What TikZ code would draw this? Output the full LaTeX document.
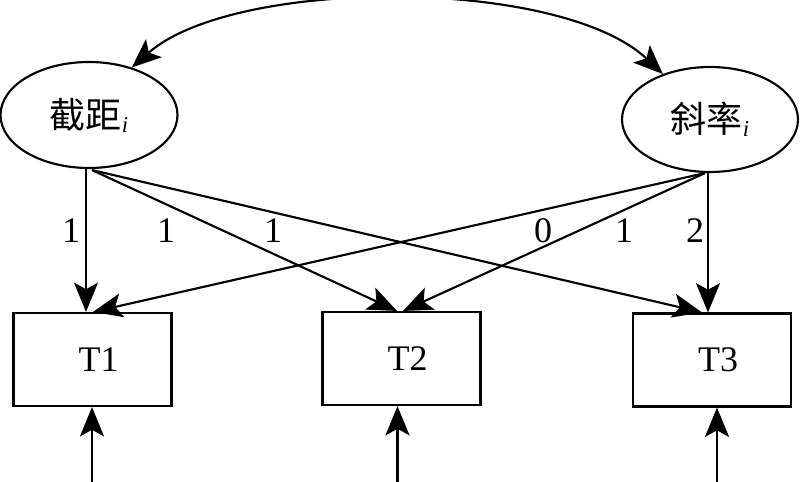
\documentclass[tikz,border=0pt]{standalone}
\usepackage{fontspec}
\setmainfont{Liberation Serif}
\newfontfamily\cjk{Noto Sans CJK SC}
\usetikzlibrary{shapes.geometric,arrows.meta,calc}
\tikzset{
  tip/.tip={Stealth[length=22pt,width=18pt,inset=5pt]},
  latent/.style={draw,ellipse,line width=1.6pt,inner sep=0pt},
  observed/.style={draw,rectangle,line width=1.6pt,inner sep=0pt,minimum width=118.5pt,minimum height=69.75pt},
  conn/.style={line width=1.6pt,-tip},
  biconn/.style={line width=1.6pt,tip-tip},
  lbl/.style={inner sep=0pt,font=\fontsize{27}{30}\selectfont},
}
\newcommand{\subi}{\raisebox{-3pt}{\rmfamily\fontsize{17}{17}\selectfont\itshape i}}
\begin{document}
\begin{tikzpicture}[x=0.75pt,y=-0.75pt]
\useasboundingbox (0,0) rectangle (800,482);
\fill[white] (0,0) rectangle (800,482);
% latent variables
\node[latent,minimum width=132.75pt,minimum height=79.5pt] (L) at (89,115) {\fontsize{27}{30}\selectfont{\cjk 截距}\subi};
\node[latent,minimum width=132pt,minimum height=78.75pt] (R) at (710,119.5) {\fontsize{27}{30}\selectfont{\cjk 斜率}\subi};
% observed
\node[observed] (T1) at (92.5,359.5) {\fontsize{27}{30}\selectfont\hspace{9pt}T1};
\node[observed] (T2) at (401.5,358.5) {\fontsize{27}{30}\selectfont\hspace{9pt}T2};
\node[observed] (T3) at (712,360) {\fontsize{27}{30}\selectfont\hspace{9pt}T3};
% start points
\coordinate (iv) at ($(L.south)+(-3,0)$);
\coordinate (id) at ($(L.south)+(3,1)$);
\coordinate (sv) at ($(R.south)+(-2,0)$);
\coordinate (sd) at ($(R.south)+(-5,0)$);
% bottom free ends
\coordinate (b1) at (92,484);
\coordinate (b2) at (397.5,484);
\coordinate (b3) at (717,484);
% covariance
\draw[biconn] (R.136) .. controls (560,-23) and (235,-23) .. (L.48);
% loadings
\draw[conn] (iv) -- ($(T1.north)+(-6.5,0)$);
\draw[conn] (id) -- ($(T2.north)+(-4.5,0)$);
\draw[conn] (id) -- ($(T3.north)+(-10,0)$);
\draw[conn] (sd) -- ($(T1.north)+(0.5,0)$);
\draw[conn] (sd) -- ($(T2.north)+(1.5,0)$);
\draw[conn] (sv) -- ($(T3.north)+(-4,0)$);
% errors
\draw[conn] (b1) -- ($(T1.south)+(-0.5,0)$);
\draw[conn] (b2) -- ($(T2.south)+(-4,0)$);
\draw[conn] (b3) -- ($(T3.south)+(5,0)$);
% labels
\node[lbl] (l1) at (71,231) {1};
\node[lbl] (l2) at (166,231) {1};
\node[lbl] (l3) at (273,231) {1};
\node[lbl] (l4) at (543,231) {0};
\node[lbl] (l5) at (624,231) {1};
\node[lbl] (l6) at (695,231) {2};
\end{tikzpicture}
\end{document}
